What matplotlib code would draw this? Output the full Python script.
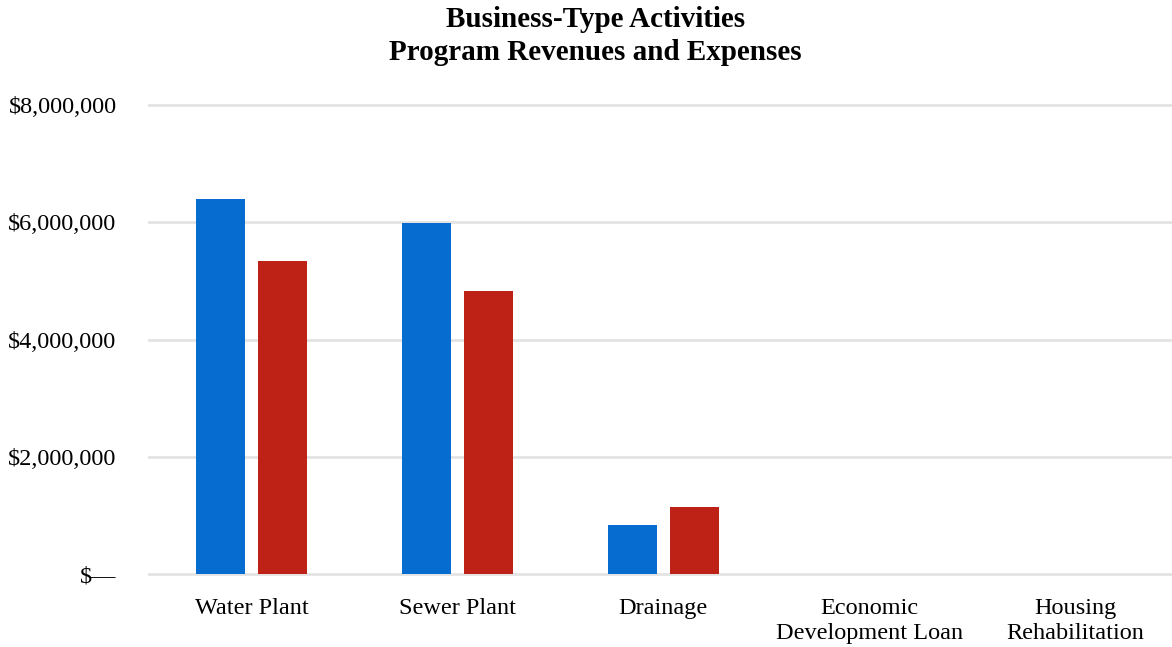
import numpy as np
import matplotlib.pyplot as plt
from matplotlib.ticker import FuncFormatter

plt.rcParams['font.family'] = ['Liberation Serif', 'DejaVu Serif']

categories = ['Water Plant', 'Sewer Plant', 'Drainage',
              'Economic\nDevelopment Loan', 'Housing\nRehabilitation']
revenues = [6390000, 5980000, 840000, 0, 0]
expenses = [5340000, 4820000, 1140000, 0, 0]

fig = plt.figure(figsize=(11.72, 6.47), dpi=100)
ax = fig.add_axes([148.6/1172, 73/647, 1 - 148.6/1172, 469/647])

x = np.arange(len(categories))
w = 0.24
ax.bar(x - 0.15, revenues, w, color='#066cd0', zorder=3)
ax.bar(x + 0.15, expenses, w, color='#be2116', zorder=3)

ax.set_xlim(-0.5, 4.47)
ax.set_ylim(0, 8000000)
ax.set_yticks([0, 2000000, 4000000, 6000000, 8000000])

def money(v, pos):
    if v == 0:
        return '$\u2014'
    return '${:,.0f}'.format(v)

ax.yaxis.set_major_formatter(FuncFormatter(money))
ax.set_xticks(x)
ax.set_xticklabels(categories, fontsize=17.5, linespacing=1.28)
ax.tick_params(axis='y', labelsize=17.5, length=0, pad=23)
ax.tick_params(axis='x', length=0, pad=17)
ax.grid(axis='y', color='#e3e3e3', linewidth=2, zorder=0)
for gl in ax.get_ygridlines():
    gl.set_clip_on(False)
for s in ax.spines.values():
    s.set_visible(False)

fig.text(595.5/1172, 0.99, 'Business-Type Activities\nProgram Revenues and Expenses',
         fontsize=21, fontweight='bold', ha='center', va='top', linespacing=1.27)

fig.savefig('out.png', dpi=100)
